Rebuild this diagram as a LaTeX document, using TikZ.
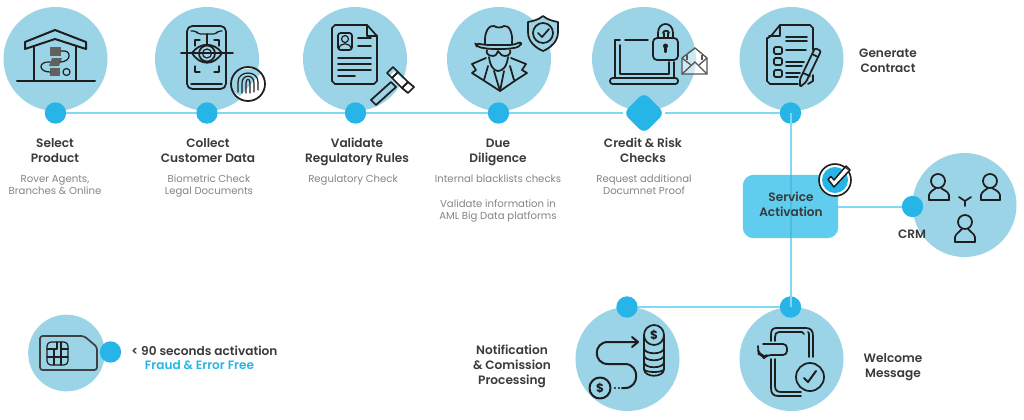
\documentclass[tikz,border=0pt]{standalone}
\usepackage{fontspec}
\setmainfont{Poppins}
\newfontfamily\hdfont{Poppins SemiBold}
\usetikzlibrary{shapes.geometric}
\definecolor{disc}{HTML}{9BD4E6}
\definecolor{dotc}{HTML}{26B5E6}
\definecolor{linec}{HTML}{7FD8F4}
\definecolor{boxc}{HTML}{60CCEE}
\definecolor{boxline}{HTML}{4CBDE2}
\definecolor{ink}{HTML}{1E1E1E}
\definecolor{headc}{HTML}{3A3A3A}
\definecolor{subc}{HTML}{858585}
\tikzset{
  x=0.75pt,y=-0.75pt,
  bigdisc/.style={circle,fill=disc,minimum size=78pt,inner sep=0pt},
  simdisc/.style={circle,fill=disc,minimum size=57.5pt,inner sep=0pt},
  dotn/.style={circle,fill=dotc,minimum size=16pt,inner sep=0pt},
  flow/.style={draw=linec,line width=1.5pt},
  ic/.style={draw=ink,line width=1.3pt,line cap=round,line join=round},
  icthin/.style={draw=ink,line width=.9pt,line cap=round,line join=round},
  head/.style={font=\hdfont\fontsize{9.1pt}{11.25pt}\selectfont,text=headc,align=center,inner sep=0pt,execute at end node=\vphantom{g}},
  subt/.style={font=\fontsize{7.6pt}{9pt}\selectfont,text=subc,align=center,inner sep=0pt,execute at end node=\vphantom{g}},
}
\begin{document}
\begin{tikzpicture}
\useasboundingbox[fill=white] (0,0) rectangle (1024,419);
% discs
\node[bigdisc] (c1) at (55.5,59) {};
\node[bigdisc] (c2) at (207,59) {};
\node[bigdisc] (c3) at (355,59) {};
\node[bigdisc] (c4) at (499,59) {};
\node[bigdisc] (c5) at (644,59) {};
\node[bigdisc] (c6) at (791.5,59) {};
\node[bigdisc] (c7) at (964.5,205) {};
\node[bigdisc] (c8) at (627.5,359) {};
\node[bigdisc] (c9) at (791.5,359) {};
\node[simdisc] (c10) at (66.5,353) {};
% service box
\node[rectangle,rounded corners=8pt,fill=boxc,minimum width=71.5pt,minimum height=47.5pt,inner sep=0pt] (svc) at (790.5,206.5) {};
% dots
\node[dotn] (d1) at (55.5,113) {};
\node[dotn] (d2) at (207,113) {};
\node[dotn] (d3) at (355.5,113) {};
\node[dotn] (d4) at (498.5,113) {};
\node[diamond,fill=dotc,rounded corners=5pt,minimum size=31pt,inner sep=0pt] (d5) at (644,113) {};
\node[dotn] (d6) at (790.5,113) {};
\node[dotn] (d7) at (912.5,206.5) {};
\node[dotn] (d8) at (627,307) {};
\node[dotn] (d9) at (790.5,307) {};
\node[dotn] (d10) at (110.5,352) {};
% connectors
\draw[flow] (d1) -- (d2);
\draw[flow] (d2) -- (d3);
\draw[flow] (d3) -- (d4);
\draw[flow] (d4) -- (d5);
\draw[flow] (d5) -- (d6);
\draw[flow] (d6.center) -- (d9.center);
\draw[flow,draw=boxline] (svc.north) -- (svc.south);
\draw[flow] (svc.east) -- (d7);
\draw[flow] (d9) -- (d8);
% labels
\node[head] (t1) at (55,152.5) {Select\\Product};
\node[subt] (s1) at (55,186) {Rover Agents,\\Branches \& Online};
\node[head] (t2) at (208,152.5) {Collect\\Customer Data};
\node[subt] (s2) at (209,186.5) {Biometric Check\\Legal Documents};
\node[head] (t3) at (357,151.5) {Validate\\Regulatory Rules};
\node[subt] (s3) at (353,180.5) {Regulatory Check};
\node[head] (t4) at (498,152.5) {Due\\Diligence};
\node[subt] (s4) at (498,180) {Internal blacklists checks};
\node[subt] (s4b) at (498,211) {Validate information in\\AML Big Data platforms};
\node[head] (t5) at (643,151.5) {Credit \& Risk\\Checks};
\node[subt] (s5) at (644,186) {Request additional\\Documnet Proof};
\node[head] (t6) at (888,62) {Generate\\Contract};
\node[head] (t7) at (791,205.7) {Service\\Activation};
\node[head] (t8) at (912,236) {CRM};
\node[head] (t9) at (512,366) {Notification\\\& Comission\\Processing};
\node[head] (t10) at (893,367) {Welcome\\Message};
\node[head,anchor=west] (t11) at (131,352) {< 90 seconds activation};
\node[head,text=dotc] (t12) at (199.5,367) {Fraud \& Error Free};
% icon 1 house
\draw[ic,line width=1.5pt] (25,49) -- (25,42) -- (55,30) -- (86,42) -- (86,49) -- (55,39) -- cycle;
\draw[ic,line width=1.5pt] (34,46) -- (34,80);
\draw[ic,line width=1.5pt] (76,46) -- (76,80);
\draw[ic,line width=1.5pt] (17,81) -- (95,81);
\fill[ink!70] (50,47) rectangle (61,56);
\fill[ink!70] (52,58) -- (62,58) -- (59,66) -- (49,66) -- cycle;
\fill[ink!70] (50,68) rectangle (60,76);
\draw[icthin] (61,51) .. controls (72,49) and (72,62) .. (60,62);
\draw[icthin] (50,62) .. controls (38,61) and (38,72) .. (50,72);
\draw[icthin] (66.5,72) circle [radius=3.5];
% icon 2 phone + eye
\draw[ic,rounded corners=4pt] (187,26) rectangle (226,89);
\draw[icthin,rounded corners=2pt] (191,31) -- (196,31) -- (198,34) -- (216,34) -- (218,31) -- (222,31);
\draw[ic] (181,53) -- (233,53);
\draw[ic] (192,53) .. controls (200,42) and (214,42) .. (222,53) .. controls (214,66) and (200,66) .. (192,53);
\draw[ic] (207,53.5) circle [radius=8];
\draw[icthin] (207,53.5) circle [radius=4.5];
\draw[icthin] (207,34) -- (207,45);
\draw[icthin] (200,40) -- (195,40) -- (195,46);
\draw[icthin] (214,40) -- (219,40) -- (219,46);
\draw[icthin] (195,66) -- (195,72) -- (200,72);
\draw[icthin] (219,66) -- (219,72) -- (214,72);
\draw[icthin] (191,84) -- (222,84);
\fill[white] (248,84) circle [radius=17];
\fill[disc] (237,70) -- (258,68) -- (260,74) -- (240,96) -- (231,90) -- (230,80) -- cycle;
\draw[ic] (248,84) circle [radius=17];
\draw[icthin] (238,92) -- (238,82) .. controls (238,70) and (258,70) .. (258,82) -- (258,90);
\draw[icthin] (242,93) -- (242,83) .. controls (242,74) and (254,74) .. (254,83) -- (254,92);
\draw[icthin] (246,93) -- (246,83) .. controls (246,78) and (250,78) .. (250,83) -- (250,93);
% icon 3 document + gavel
\draw[ic] (367,25) -- (335,25) -- (332,28) -- (332,81) -- (335,84) -- (374,84) -- (377,81) -- (377,36) -- cycle;
\draw[icthin] (367,25) -- (367,36) -- (377,36);
\draw[ic,rounded corners=2pt] (338,33) rectangle (352,50);
\draw[icthin] (345,39) circle [radius=3.5];
\draw[icthin] (339,49) .. controls (339,42) and (351,42) .. (351,49);
\draw[ic] (358,38) -- (371,38);
\draw[ic] (358,46) -- (371,46);
\draw[ic] (338,58) -- (371,58);
\draw[ic] (338,64) -- (371,64);
\draw[ic] (338,70) -- (371,70);
\draw[ic] (338,76) -- (355,76);
\fill[white] (394,71) -- (410,86) -- (405,92) -- (389,77) -- cycle;
\draw[ic] (371,100) -- (391,82) -- (396,87) -- (376,105) -- cycle;
\draw[ic] (387,73) -- (393,67) -- (398,72) -- (392,78) -- cycle;
\draw[ic] (392,78) -- (398,72) -- (408,82) -- (402,88) -- cycle;
\draw[ic] (402,88) -- (408,82) -- (414,87) -- (408,93) -- cycle;
% icon 4 spy + shield
\draw[ic,rounded corners=3pt] (475,43) -- (485,45) -- (514,45) -- (522,41) -- (520,47) -- (507,49) -- (490,49) -- (477,47) -- cycle;
\draw[ic] (485,44) .. controls (484,30) and (490,25) .. (494,26) .. controls (497,28) and (501,28) .. (504,26) .. controls (509,25) and (513,32) .. (512,44);
\draw[ic] (487,50) .. controls (486,52) and (487,56) .. (493,56) .. controls (497,56) and (497,52) .. (498,51) .. controls (500,52) and (500,56) .. (505,56) .. controls (510,56) and (511,52) .. (510,50);
\draw[ic] (489,57) .. controls (490,66) and (494,71) .. (498,71) .. controls (503,71) and (507,66) .. (508,57);
\draw[ic] (486,58) -- (472,64) -- (476,70) -- (472,73) -- (483,80) -- (500,91) -- (516,80) -- (527,73) -- (522,70) -- (526,64) -- (511,58);
\draw[ic] (488,66) -- (484,80);
\draw[ic] (510,66) -- (514,80);
\draw[ic] (494,71) -- (500,91) -- (504,71);
\draw[ic,fill=disc] (543,16) .. controls (538,20) and (533,21) .. (528,22) -- (528,32) .. controls (528,42) and (536,48) .. (543,51) .. controls (550,48) and (558,42) .. (558,32) -- (558,22) .. controls (553,21) and (548,20) .. (543,16) -- cycle;
\draw[ic] (543,33) circle [radius=10];
\draw[ic] (538,33) -- (542,37) -- (549,29);
% icon 5 laptop + lock + envelope
\draw[ic] (648,40) -- (625,40);
\draw[ic] (620,40) -- (615,40) -- (615,78);
\draw[ic] (620,45) -- (620,74) -- (669,74) -- (669,62);
\draw[ic] (674,62) -- (674,78);
\draw[ic,rounded corners=2pt] (610,78) -- (678,78) -- (678,84) -- (610,84) -- cycle;
\draw[ic,rounded corners=3pt] (653,38) rectangle (678,60);
\draw[ic] (658,38) -- (658,33) .. controls (658,21) and (673,21) .. (673,33) -- (673,38);
\draw[ic] (664,33) -- (664,37);
\draw[ic] (668,33) -- (668,37);
\draw[ic] (663,33) .. controls (663,30) and (669,30) .. (669,33);
\fill[ink] (665.5,46) circle [radius=2.5];
\draw[ic,line width=1.6pt] (665.5,46) -- (665.5,52);
\draw[draw=ink!75,line width=1pt,fill=white,fill opacity=.5] (682,74) -- (682,58) -- (695,48) -- (707,58) -- (707,74) -- cycle;
\draw[draw=ink!75,line width=1pt] (682,74) -- (695,62) -- (707,74);
\draw[draw=ink!75,line width=1pt] (682,58) -- (691,65);
\draw[draw=ink!75,line width=1pt] (707,58) -- (699,65);
\draw[draw=ink!75,line width=1pt] (687,55) -- (687,60);
\draw[draw=ink!75,line width=1pt] (702,55) -- (702,60);
% icon 6 contract
\draw[ic] (771,36) -- (780,25) -- (810,25) -- (813,28) -- (813,50);
\draw[ic] (771,36) -- (768,38) -- (767,38) -- (767,81) -- (770,84) -- (798,84);
\draw[ic] (780,25) -- (780,36) -- (769,36);
\draw[ic] (808,84) -- (813,81) -- (813,75);
\draw[ic] (786,37) -- (807,37);
\draw[ic] (786,41) -- (807,41);
\draw[ic] (786,50) -- (806,50);
\draw[ic] (786,62) -- (804,62);
\draw[ic] (786,66) -- (802,66);
\draw[ic] (786,73) -- (800,73);
\draw[ic] (786,77) -- (798,77);
\draw[ic,rounded corners=1pt] (774,47) rectangle (782,54);
\draw[ic,rounded corners=1pt] (774,58) rectangle (782,65);
\draw[ic,rounded corners=1pt] (774,70) rectangle (782,77);
\draw[ic,fill=disc,rounded corners=1pt] (815,48) -- (821,51) -- (806,82) -- (800,87) -- (800,79) -- cycle;
\draw[ic] (803,73) -- (810,76);
\draw[ic] (812,54) -- (818,57);
% badge
\fill[white] (835,180) circle [radius=16];
\draw[ic,line width=1.2pt] (835,180) circle [radius=16];
\fill[dotc] (835,180) circle [radius=13];
\fill[white] (829,179) -- (831,177) -- (834,180) -- (845,168) -- (849,171) -- (834,186) -- cycle;
\draw[ic,line width=1.1pt] (828,179.5) -- (831,176.5) -- (834,180) -- (846,166) -- (850,170) -- (834,187) -- cycle;
% CRM people
\draw[ic] (938,181) circle [radius=7];
\draw[ic] (929,200) -- (929,195) .. controls (930,191) and (934,190) .. (936,188);
\draw[ic] (949,200) -- (949,195) .. controls (948,191) and (943,190) .. (941,188);
\draw[ic] (929,200) -- (949,200);
\draw[ic] (990,181) circle [radius=7];
\draw[ic] (981,200) -- (981,195) .. controls (982,191) and (986,190) .. (988,188);
\draw[ic] (1000,200) -- (1000,195) .. controls (999,191) and (995,190) .. (992,188);
\draw[ic] (981,200) -- (1000,200);
\draw[ic] (965,222) circle [radius=7];
\draw[ic] (955,242) -- (955,237) .. controls (956,233) and (960,232) .. (962,229);
\draw[ic] (975,242) -- (975,237) .. controls (974,233) and (970,232) .. (968,229);
\draw[ic] (955,242) -- (975,242);
\draw[ic] (959,197) -- (965,201) -- (971,197);
\draw[ic] (965,201) -- (965,206);
% coins icon
\draw[ic] (654,335) circle [radius=10];
\node[font=\fontsize{9pt}{9pt}\selectfont\bfseries,text=ink,inner sep=0pt] (dollar1) at (654,335) {\$};
\draw[ic] (644,335) -- (644,369) .. controls (644,378) and (664,378) .. (664,369) -- (664,335);
\draw[ic] (644,348) .. controls (644,355) and (664,355) .. (664,348);
\draw[ic] (644,355) .. controls (644,362) and (664,362) .. (664,355);
\draw[ic] (644,362) .. controls (644,369) and (664,369) .. (664,362);
\draw[ic] (644,369) .. controls (644,373) and (664,373) .. (664,369);
\draw[ic,line width=1.5pt] (637,342) -- (608,342) .. controls (593,342) and (593,364) .. (608,364) -- (625,364) .. controls (640,364) and (640,388) .. (625,388) -- (622,388);
\draw[ic,line width=1.5pt] (632,337) -- (638,342) -- (632,347);
\fill[ink] (619,388) circle [radius=1.1];
\fill[ink] (615,388) circle [radius=1.1];
\draw[ic,line width=1.5pt] (600,388) circle [radius=10.5];
\node[font=\fontsize{9pt}{9pt}\selectfont\bfseries,text=ink,inner sep=0pt] (dollar2) at (600,388) {\$};
% welcome icon
\draw[ic] (785,328) -- (776,328) .. controls (772,328) and (771,331) .. (771,335) -- (771,341);
\draw[ic] (785,332) -- (779,332) .. controls (776,332) and (775,334) .. (775,337) -- (775,341);
\draw[ic] (785,328) -- (806,328) .. controls (811,328) and (813,331) .. (813,336) -- (813,357);
\draw[ic] (785,332) -- (802,332) -- (804,334);
\draw[ic] (808,332) .. controls (809,332) and (809,334) .. (809,337) -- (809,357);
\draw[ic] (771,359) -- (771,388) .. controls (771,393) and (773,396) .. (778,396) -- (801,396);
\draw[ic] (775,359) -- (775,386) .. controls (775,390) and (777,392) .. (781,392) -- (801,392);
\draw[ic,rounded corners=3pt] (763,344) -- (787,344) -- (787,355) -- (767,355) -- (764,358) -- (762,355) -- (759,354) -- (758,350) -- (758,346);
\draw[ic] (810,377) circle [radius=14];
\draw[ic,line width=1.5pt] (804,378) -- (808,382) -- (816,371);
% SIM
\draw[ic,draw=ink!85,rounded corners=2pt] (40,336) -- (84,336) -- (97,347) -- (97,370) -- (40,370) -- cycle;
\draw[icthin,rounded corners=3pt] (47,342) rectangle (68,365);
\draw[icthin] (47,349) -- (57,349) -- (57,342);
\draw[icthin] (61,342) -- (61,349) -- (68,349);
\draw[icthin] (47,357) -- (68,357);
\draw[icthin] (54,349) -- (54,365);
\draw[icthin] (61,349) -- (61,365);
\end{tikzpicture}
\end{document}
